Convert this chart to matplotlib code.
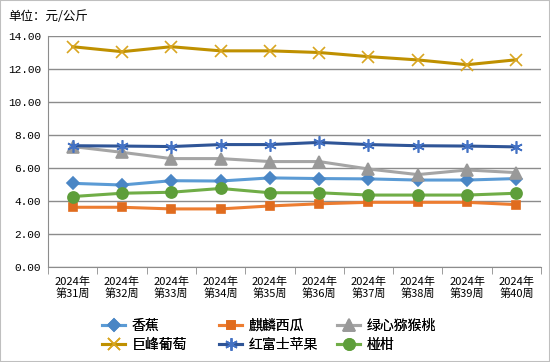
import matplotlib
matplotlib.use("Agg")
import matplotlib.pyplot as plt
from matplotlib.patches import Rectangle

plt.rcParams['font.family'] = ['Noto Sans CJK SC', 'DejaVu Sans']

weeks = ["2024年\n第31周", "2024年\n第32周", "2024年\n第33周", "2024年\n第34周", "2024年\n第35周",
         "2024年\n第36周", "2024年\n第37周", "2024年\n第38周", "2024年\n第39周", "2024年\n第40周"]

banana = [5.07, 4.97, 5.23, 5.21, 5.40, 5.36, 5.34, 5.27, 5.27, 5.36]
watermelon = [3.62, 3.62, 3.52, 3.52, 3.70, 3.83, 3.92, 3.92, 3.92, 3.78]
kiwi = [7.30, 6.95, 6.57, 6.57, 6.39, 6.39, 5.94, 5.60, 5.88, 5.72]
grape = [13.35, 13.05, 13.35, 13.10, 13.10, 13.00, 12.75, 12.55, 12.26, 12.56]
apple = [7.35, 7.33, 7.30, 7.42, 7.42, 7.55, 7.42, 7.35, 7.33, 7.28]
ponkan = [4.27, 4.47, 4.53, 4.76, 4.50, 4.50, 4.36, 4.36, 4.36, 4.47]

series = [
    ("香蕉", banana, "#5B9BD5", "#4A86C5", "D", 6),
    ("麒麟西瓜", watermelon, "#ED7D31", "#E06C1F", "s", 6),
    ("绿心猕猴桃", kiwi, "#A5A5A5", "#999999", "^", 8),
    ("巨峰葡萄", grape, "#BF9000", "#D9A520", "x", 8),
    ("红富士苹果", apple, "#2F5597", "#4472C4", (6, 2, 0), 9),
    ("椪柑", ponkan, "#70AD47", "#5E9E3A", "o", 8),
]

fig = plt.figure(figsize=(5.5, 3.62), dpi=100)
ax = fig.add_axes([48 / 550, 1 - 267 / 362, 493 / 550, 231 / 362])

x = list(range(len(weeks)))
handles = []
for name, vals, col, mcol, mk, ms in series:
    ln, = ax.plot(x, vals, color=col, lw=2.2, marker=mk, markersize=ms,
                  markerfacecolor=mcol, markeredgecolor=mcol, markeredgewidth=1.2,
                  label=name, zorder=3)
    handles.append(ln)

ax.set_xlim(-0.5, len(weeks) - 0.5)
ax.set_ylim(0, 14)
ax.set_yticks([0, 2, 4, 6, 8, 10, 12, 14])
ax.set_yticklabels([f"{v:.2f}" for v in ax.get_yticks()], fontsize=8,
                   family="Liberation Mono")
ax.yaxis.grid(True, color="#8C8C8C", lw=1)
ax.set_axisbelow(True)
ax.tick_params(axis="y", length=0, pad=5)

ax.set_xticks(x)
ax.set_xticklabels(weeks, fontsize=8, linespacing=1.1)
ax.set_xticks([i - 0.5 for i in range(len(weeks) + 1)], minor=True)
ax.tick_params(axis="x", which="major", length=0, pad=7)
ax.tick_params(axis="x", which="minor", length=5, color="#8C8C8C", direction="out")

for s in ["top", "right"]:
    ax.spines[s].set_visible(False)
for s in ["left", "bottom"]:
    ax.spines[s].set_color("#8C8C8C")

fig.text(8 / 550, 1 - 17 / 362, "单位：元/公斤", fontsize=9, va="center")

# legend: 3 fixed columns, 2 rows (row-wise order like the original)
col_x = [92, 209, 327]
for c in range(3):
    hs = [handles[c], handles[c + 3]]
    leg = fig.legend(hs, [h.get_label() for h in hs], loc="upper left",
                     bbox_to_anchor=(col_x[c] / 550, 1 - 309 / 362),
                     frameon=False, fontsize=10, handlelength=1.7,
                     handletextpad=0.45, labelspacing=0.35, borderpad=0.2)
    fig.add_artist(leg)

fig.patches.append(Rectangle((0, 0), 1, 1, transform=fig.transFigure, fill=False,
                             edgecolor="#BFBFBF", lw=1.5))

fig.savefig("out.png", dpi=100)
